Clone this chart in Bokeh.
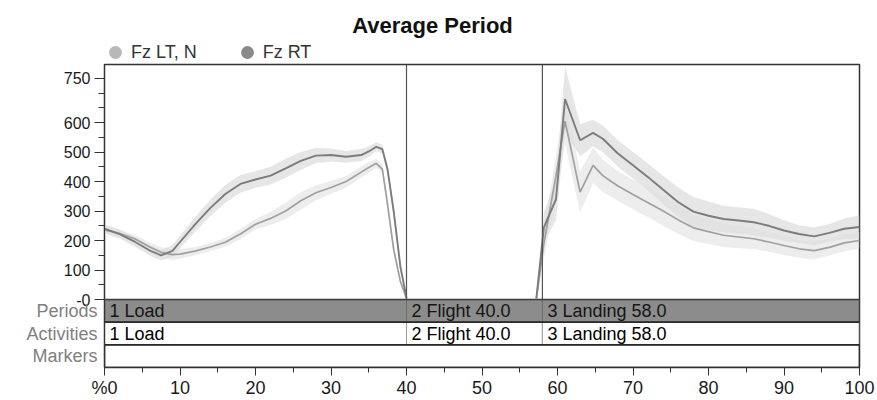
from bokeh.plotting import figure
from bokeh.models import (Range1d, FactorRange, FixedTicker, Span, Legend, LegendItem,
                          ColumnDataSource, Label)
from bokeh.layouts import column
from bokeh.core.properties import value
from bokeh.embed import file_html
from bokeh.resources import INLINE

FONT = "Liberation Sans"

# ---------------- data ----------------
title_text = "Average Period"
series_names = ["Fz LT, N", "Fz RT"]

# Load phase (0-40 %)
x_load = [0, 2, 4, 6, 7.5, 9, 10, 12, 14, 16, 18, 20, 22, 24, 26, 28, 30, 32, 34, 35, 36, 36.8, 37.5, 38.3, 39.2, 40]
rt_load = [240, 222, 196, 166, 150, 165, 195, 255, 310, 358, 392, 407, 420, 445, 470, 488, 490, 484, 490, 502, 518, 510, 440, 300, 110, 5]
lt_load = [236, 224, 206, 178, 160, 152, 154, 164, 178, 194, 222, 255, 275, 300, 335, 362, 380, 400, 432, 448, 462, 442, 320, 170, 60, 4]
rt_sd_load = [15, 15, 16, 18, 18, 20, 22, 25, 28, 30, 30, 28, 30, 32, 30, 26, 22, 20, 20, 18, 15, 15, 18, 20, 15, 4]
lt_sd_load = [12, 12, 13, 15, 17, 18, 16, 14, 14, 15, 17, 18, 22, 28, 30, 25, 22, 20, 18, 18, 15, 15, 18, 18, 12, 3]

# Landing phase (57-100 %)
x_land = [57.2, 58.2, 59.8, 61, 63, 64.7, 66, 68, 70, 72, 74, 76, 78, 80, 82, 84, 86, 88, 90, 92, 94, 96, 98, 100]
rt_land = [4, 245, 340, 680, 540, 565, 545, 495, 455, 415, 372, 330, 298, 284, 273, 268, 262, 250, 234, 222, 214, 226, 240, 246]
lt_land = [2, 190, 420, 605, 364, 455, 420, 385, 356, 328, 300, 270, 243, 230, 218, 212, 206, 195, 183, 172, 166, 177, 192, 200]
rt_sd_land = [4, 50, 70, 110, 55, 45, 45, 45, 45, 45, 48, 50, 50, 48, 45, 45, 45, 40, 35, 30, 30, 30, 35, 40]
lt_sd_land = [2, 50, 70, 75, 70, 60, 55, 50, 50, 50, 50, 48, 45, 42, 40, 38, 35, 33, 32, 30, 30, 28, 28, 28]

# Periods / activities
rows = ["Periods", "Activities", "Markers"]
period_labels = ["1 Load", "2 Flight 40.0", "3 Landing 58.0"]
period_start = [0, 40, 58]
period_end = [40, 58, 100]
activity_labels = ["1 Load", "2 Flight 40.0", "3 Landing 58.0"]

y_ticks = [0, 100, 200, 300, 400, 500, 600, 750]
y_minor = [50, 150, 250, 350, 450, 550, 650, 700]
x_ticks = [0, 10, 20, 30, 40, 50, 60, 70, 80, 90, 100]
x_minor = [5, 15, 25, 35, 45, 55, 65, 75, 85, 95]

X_MIN, X_MAX = 0, 100
Y_MIN, Y_MAX = 0, 797

LT_LINE, RT_LINE = "#a0a0a0", "#7c7c7c"
LT_BAND, RT_BAND = "#dedede", "#d2d2d2"
LT_DOT, RT_DOT = "#b8b8b8", "#8a8a8a"

# ---------------- layout constants (pixels) ----------------
W = 877
LEFT, RIGHT = 104, 18
FRAME_W = W - LEFT - RIGHT
HEADER_H = 63
MAIN_FRAME_TOP, MAIN_FRAME_BOTTOM = 64, 299
OVERLAP = 10            # room below the main frame so the "-0" label is not clipped
BAND_H = 101
TITLE_CX, TITLE_CY = 432, 25

xr = Range1d(X_MIN, X_MAX)

# ---------------- header: title + legend ----------------
hdr = figure(width=W, height=HEADER_H, x_range=xr, y_range=Range1d(0, HEADER_H),
             output_backend="svg", toolbar_location=None,
             min_border_left=LEFT, min_border_right=RIGHT, min_border_top=0, min_border_bottom=0)
hdr.axis.visible = False
hdr.grid.visible = False
hdr.outline_line_color = None
hdr.add_layout(Label(x=(TITLE_CX - LEFT) / FRAME_W * (X_MAX - X_MIN) + X_MIN,
                     y=HEADER_H - TITLE_CY, text=title_text,
                     text_align="center", text_baseline="middle",
                     text_font=FONT, text_font_size="22px", text_font_style="bold",
                     text_color="#111111"))

r_lt = hdr.scatter(x=x_load[:1], y=[0], size=0, marker="circle", fill_color=LT_DOT, line_color=None)
r_rt = hdr.scatter(x=x_load[:1], y=[0], size=0, marker="circle", fill_color=RT_DOT, line_color=None)
legend = Legend(items=[LegendItem(label=series_names[0], renderers=[r_lt]),
                       LegendItem(label=series_names[1], renderers=[r_rt])],
                orientation="horizontal", location=(-5, -5),
                glyph_width=32, glyph_height=32, label_standoff=0, spacing=34,
                margin=0, padding=0, border_line_color=None, background_fill_alpha=0,
                label_text_font=FONT, label_text_font_size="18px", label_text_color="#333333")
hdr.add_layout(legend, "center")

# ---------------- main figure ----------------
p = figure(width=W, height=MAIN_FRAME_BOTTOM - HEADER_H + OVERLAP, x_range=xr,
           y_range=Range1d(Y_MIN, Y_MAX),
           output_backend="svg", toolbar_location=None,
           min_border_left=LEFT, min_border_right=RIGHT,
           min_border_top=MAIN_FRAME_TOP - HEADER_H, min_border_bottom=OVERLAP)
p.xaxis.visible = False
p.grid.visible = False
p.outline_line_color = "#333333"
p.outline_line_width = 1.5

def seg(x, m, s):
    lo = [a - b for a, b in zip(m, s)]
    hi = [a + b for a, b in zip(m, s)]
    return ColumnDataSource(dict(x=x, m=m, lo=lo, hi=hi))

for xs, lt, lts, rt, rts in [(x_load, lt_load, lt_sd_load, rt_load, rt_sd_load),
                             (x_land, lt_land, lt_sd_land, rt_land, rt_sd_land)]:
    s_lt = seg(xs, lt, lts)
    s_rt = seg(xs, rt, rts)
    p.varea(x="x", y1="lo", y2="hi", source=s_rt, fill_color=RT_BAND, fill_alpha=0.55)
    p.varea(x="x", y1="lo", y2="hi", source=s_lt, fill_color=LT_BAND, fill_alpha=0.55)
    p.line(x="x", y="m", source=s_lt, line_color=LT_LINE, line_width=1.7)
    p.line(x="x", y="m", source=s_rt, line_color=RT_LINE, line_width=1.9)

for loc in period_start[1:]:
    p.add_layout(Span(location=loc, dimension="height", line_color="#555555", line_width=1.2))

yax = p.yaxis[0]
yax.ticker = FixedTicker(ticks=y_ticks, minor_ticks=y_minor)
yax.major_label_overrides = {0: "-0"}
yax.major_label_text_font = FONT
yax.major_label_text_font_size = "16px"
yax.major_label_text_color = "#1a1a1a"
yax.major_tick_in = 0
yax.major_tick_out = 10
yax.minor_tick_in = 0
yax.minor_tick_out = 6
yax.major_label_standoff = 4
yax.axis_line_color = "#333333"
yax.major_tick_line_color = "#333333"
yax.minor_tick_line_color = "#333333"

# ---------------- band figure ----------------
p2 = figure(width=W, height=BAND_H, x_range=xr, y_range=FactorRange(factors=rows[::-1], range_padding=0),
            output_backend="svg", toolbar_location=None,
            min_border_left=LEFT, min_border_right=RIGHT, min_border_top=0, min_border_bottom=0)
p2.margin = (-OVERLAP, 0, 0, 0)
p2.border_fill_alpha = 0
p2.grid.visible = False
p2.outline_line_color = "#333333"
p2.outline_line_width = 1.5

p2.hbar(y=[rows[0]] * len(period_start), left=period_start, right=period_end, height=1,
        fill_color="#8c8c8c", line_color="#6e6e6e")
p2.hbar(y=[rows[1]] * len(period_start), left=period_start, right=period_end, height=1,
        fill_color="white", line_color="#9a9a9a")
p2.hbar(y=rows, left=[X_MIN] * 3, right=[X_MAX] * 3, height=1,
        fill_color=None, line_color="#222222", line_width=1.4)
p2.text(x=period_start, y=[rows[0]] * 3, text=period_labels, x_offset=5,
        text_baseline="middle", text_font=value(FONT), text_font_size="18px", text_color="#151515")
p2.text(x=period_start, y=[rows[1]] * 3, text=activity_labels, x_offset=5,
        text_baseline="middle", text_font=value(FONT), text_font_size="18px", text_color="#000000")

ya2 = p2.yaxis[0]
ya2.major_tick_in = 0
ya2.major_tick_out = 0
ya2.major_label_standoff = 7
ya2.major_label_text_font = FONT
ya2.major_label_text_font_size = "18px"
ya2.major_label_text_color = "#7f7f7f"
ya2.axis_line_color = "#333333"

xa = p2.xaxis[0]
xa.ticker = FixedTicker(ticks=x_ticks, minor_ticks=x_minor)
xa.major_label_overrides = {0: "%0"}
xa.major_label_text_font = FONT
xa.major_label_text_font_size = "18px"
xa.major_label_text_color = "#1a1a1a"
xa.major_tick_in = 0
xa.major_tick_out = 8
xa.minor_tick_in = 0
xa.minor_tick_out = 5
xa.major_label_standoff = 2
xa.axis_line_color = "#333333"
xa.major_tick_line_color = "#333333"
xa.minor_tick_line_color = "#333333"

layout = column(hdr, p, p2, spacing=0)
open("out.html", "w").write(file_html(layout, INLINE))
